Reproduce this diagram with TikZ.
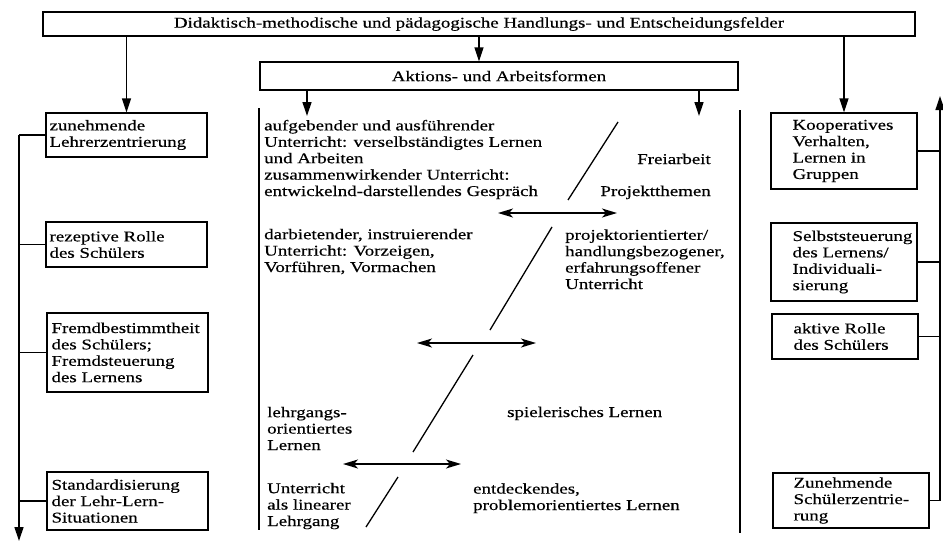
\documentclass[tikz,border=0pt]{standalone}
\usepackage{fontspec}
\setmainfont[FakeStretch=1.27,FakeBold=0.4]{Liberation Serif}
\usetikzlibrary{arrows.meta}
\begin{document}
\begin{tikzpicture}[x=1pt,y=-1pt]
\tikzset{
  txt/.style={font=\fontsize{14.9}{16.4}\selectfont, align=left, inner sep=0pt},
  frame/.style={draw, line width=1.3pt, inner sep=0pt},
  ln/.style={line width=1.3pt},
  arr/.style={ln, -{Triangle[length=14pt,width=9pt]}},
  darr/.style={ln, {Stealth[length=15pt,width=9pt,inset=4pt]}-{Stealth[length=15pt,width=9pt,inset=4pt]}},
  lbox/.style={frame, minimum width=161pt},
  rbox/.style={frame, minimum width=146pt}
}
\useasboundingbox (0,0) rectangle (943,541);

% header boxes
\node[frame, minimum width=872pt, minimum height=24pt, txt] (top) at (479,24)
  {Didaktisch-methodische und pädagogische Handlungs- und Entscheidungsfelder};
\node[frame, minimum width=478pt, minimum height=28pt, txt] (aa) at (499,76)
  {Aktions- und Arbeitsformen};

% left column
\node[lbox, minimum height=44pt] (l1) at (126.5,135) {};
\node[txt, anchor=west] (l1t) at ([xshift=4pt]l1.west) {zunehmende\\Lehrerzentrierung};
\node[lbox, minimum height=45pt] (l2) at (126.5,244.5) {};
\node[txt, anchor=west] (l2t) at ([xshift=4pt]l2.west) {rezeptive Rolle\\des Schülers};
\node[lbox, minimum height=79pt] (l3) at (127.5,352.5) {};
\node[txt, anchor=west] (l3t) at ([xshift=5pt]l3.west) {Fremdbestimmtheit\\des Schülers;\\Fremdsteuerung\\des Lernens};
\node[lbox, minimum height=58pt] (l4) at (127.5,501) {};
\node[txt, anchor=west] (l4t) at ([xshift=5pt]l4.west) {Standardisierung\\der Lehr-Lern-\\Situationen};

% right column
\node[rbox, minimum height=76pt] (r1) at (844,151) {};
\node[txt, anchor=west] (r1t) at ([xshift=22pt]r1.west) {Kooperatives\\Verhalten,\\Lernen in\\Gruppen};
\node[rbox, minimum height=78pt] (r2) at (844,262) {};
\node[txt, anchor=west] (r2t) at ([xshift=22pt]r2.west) {Selbststeuerung\\des Lernens/\\Individuali-\\sierung};
\node[rbox, minimum height=45pt] (r3) at (845,336.5) {};
\node[txt, anchor=west] (r3t) at ([xshift=22pt]r3.west) {aktive Rolle\\des Schülers};
\node[frame, minimum width=156pt, minimum height=55pt] (r4) at (851,500.5) {};
\node[txt, anchor=west] (r4t) at ([xshift=21pt]r4.west) {Zunehmende\\Schülerzentrie-\\rung};

% arrows from the header boxes
\draw[arr] (top.south -| l1.north) -- (l1.north);
\draw[arr] (top.south) -- (top.south |- aa.north);
\draw[arr] (top.south -| r1.north) -- (r1.north);
\coordinate (fa1) at (307,116);
\coordinate (fa2) at (699,116);
\draw[arr] (aa.south -| fa1) -- (fa1);
\draw[arr] (aa.south -| fa2) -- (fa2);

% brackets round the middle field
\coordinate (bl1) at (259,108);
\coordinate (bl2) at (259,530);
\coordinate (br1) at (740,110);
\coordinate (br2) at (740,533);
\draw[ln] (bl1) -- (bl2);
\draw[ln] (br1) -- (br2);

% left spine
\coordinate (lend) at (19,541);
\draw[arr] (l1.west -| lend) -- (lend);
\foreach \b in {l1,l2,l3,l4} \draw[ln] (\b.west) -- (\b.west -| lend);

% right spine
\coordinate (rend) at (940,96);
\draw[arr] (r4.east -| rend) -- (rend);
\foreach \b in {r1,r2,r3,r4} \draw[ln] (\b.east) -- (\b.east -| rend);

% middle field texts (base = baseline of the last line)
\node[txt, anchor=base west] (ta) at (264,196)
  {aufgebender und ausführender\\Unterricht: verselbständigtes Lernen\\und Arbeiten\\zusammenwirkender Unterricht:\\entwickelnd-darstellendes Gespräch};
\node[txt, anchor=base east] (tfr) at (711,164) {Freiarbeit};
\node[txt, anchor=base east] (tpt) at (711,196) {Projektthemen};
\node[txt, anchor=base west] (tb) at (264,272)
  {darbietender, instruierender\\Unterricht: Vorzeigen,\\Vorführen, Vormachen};
\node[txt, anchor=base west] (tc) at (565,289)
  {projektorientierter/\\handlungsbezogener,\\erfahrungsoffener\\Unterricht};
\node[txt, anchor=base west] (td) at (267,450) {lehrgangs-\\orientiertes\\Lernen};
\node[txt, anchor=base west] (tsp) at (507,417) {spielerisches Lernen};
\node[txt, anchor=base west] (te) at (267,526) {Unterricht\\als linearer\\Lehrgang};
\node[txt, anchor=base west] (tf) at (473,510) {entdeckendes,\\problemorientiertes Lernen};

% double arrows
\coordinate (d1a) at (498,213); \coordinate (d1b) at (617,213);
\coordinate (d2a) at (417,343); \coordinate (d2b) at (536,343);
\coordinate (d3a) at (343,464); \coordinate (d3b) at (461,464);
\draw[darr] (d1a) -- (d1b);
\draw[darr] (d2a) -- (d2b);
\draw[darr] (d3a) -- (d3b);

% slanted strokes
\coordinate (s1a) at (568,200); \coordinate (s1b) at (618,122);
\coordinate (s2a) at (552,227); \coordinate (s2b) at (490,330);
\coordinate (s3a) at (473,355); \coordinate (s3b) at (413,452);
\coordinate (s4a) at (398,477); \coordinate (s4b) at (366,527);
\draw[ln] (s1a) -- (s1b);
\draw[ln] (s2a) -- (s2b);
\draw[ln] (s3a) -- (s3b);
\draw[ln] (s4a) -- (s4b);
\end{tikzpicture}
\end{document}
